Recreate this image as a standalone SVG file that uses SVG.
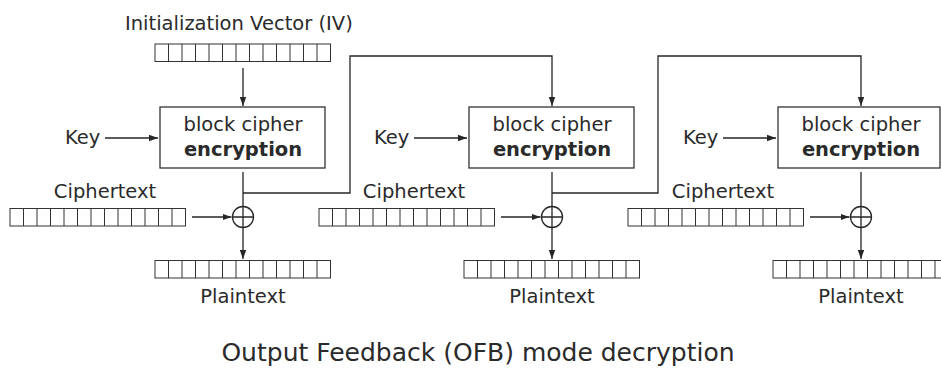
<svg xmlns="http://www.w3.org/2000/svg" xmlns:xlink="http://www.w3.org/1999/xlink" width="941" height="370" viewBox="0 0 941 370">
<style>
text{font-family:"DejaVu Sans","Liberation Sans",sans-serif;fill:#2a2a2a;font-size:19.5px}
.c{text-anchor:middle}
.b{font-weight:bold}
.t{font-size:25px}
.ln{fill:none;stroke:#262626;stroke-width:1.3}
.box{fill:#fff;stroke:#333;stroke-width:1.3}
.cell{fill:#fff;stroke:#333;stroke-width:1}
</style>
<defs>
<marker id="ah" markerWidth="10" markerHeight="8" refX="9" refY="4" orient="auto" markerUnits="userSpaceOnUse">
<path d="M0,0.8 L9,4 L0,7.2 Z" fill="#262626"/>
</marker>
<g id="reg">
<rect class="cell" x="0" y="0" width="175.5" height="17.5"/>
<path class="cell" d="M13.5,0V17.5M27,0V17.5M40.5,0V17.5M54,0V17.5M67.5,0V17.5M81,0V17.5M94.5,0V17.5M108,0V17.5M121.5,0V17.5M135,0V17.5M148.5,0V17.5M162,0V17.5"/>
</g>
<g id="xor">
<circle cx="0" cy="0" r="10.5" fill="#fff" stroke="#262626" stroke-width="1.3"/>
<path d="M-10.5,0H10.5M0,-10.5V10.5" stroke="#262626" stroke-width="1.3"/>
</g>
</defs>
<rect width="941" height="370" fill="#fff"/>

<g id="connectors">
<!-- stage 1 -->
<path class="ln" d="M243,68V106" marker-end="url(#ah)"/>
<path class="ln" d="M105,138H158" marker-end="url(#ah)"/>
<path class="ln" d="M243,172V206.5"/>
<path class="ln" d="M192,217H231.5" marker-end="url(#ah)"/>
<path class="ln" d="M243,227.5V259" marker-end="url(#ah)"/>
<path class="ln" d="M243,193H350V56H552V106" marker-end="url(#ah)"/>
<!-- stage 2 -->
<path class="ln" d="M414,138H467" marker-end="url(#ah)"/>
<path class="ln" d="M552,172V206.5"/>
<path class="ln" d="M501,217H540.5" marker-end="url(#ah)"/>
<path class="ln" d="M552,227.5V259" marker-end="url(#ah)"/>
<path class="ln" d="M552,193H658V56H861V106" marker-end="url(#ah)"/>
<!-- stage 3 -->
<path class="ln" d="M723,138H776" marker-end="url(#ah)"/>
<path class="ln" d="M861,172V206.5"/>
<path class="ln" d="M810,217H849.5" marker-end="url(#ah)"/>
<path class="ln" d="M861,227.5V259" marker-end="url(#ah)"/>
</g>

<g id="iv">
<text x="125" y="30">Initialization Vector (IV)</text>
<use xlink:href="#reg" x="155" y="44"/>
</g>

<g id="stage1">
<g id="key1"><text x="65" y="144">Key</text></g>
<g id="enc1">
<rect class="box" x="160" y="107" width="165" height="61"/>
<text class="c" x="243" y="131">block cipher</text>
<text class="c b" x="243" y="156">encryption</text>
</g>
<g id="ct1">
<text class="c" x="105" y="198">Ciphertext</text>
<use xlink:href="#reg" x="10" y="208.5"/>
</g>
<g id="xor1"><use xlink:href="#xor" x="243" y="217"/></g>
<g id="pt1">
<use xlink:href="#reg" x="155" y="260.5"/>
<text class="c" x="243" y="303">Plaintext</text>
</g>
</g>

<g id="stage2">
<g id="key2"><text x="374" y="144">Key</text></g>
<g id="enc2">
<rect class="box" x="469" y="107" width="165" height="61"/>
<text class="c" x="552" y="131">block cipher</text>
<text class="c b" x="552" y="156">encryption</text>
</g>
<g id="ct2">
<text class="c" x="414" y="198">Ciphertext</text>
<use xlink:href="#reg" x="319" y="208.5"/>
</g>
<g id="xor2"><use xlink:href="#xor" x="552" y="217"/></g>
<g id="pt2">
<use xlink:href="#reg" x="464" y="260.5"/>
<text class="c" x="552" y="303">Plaintext</text>
</g>
</g>

<g id="stage3">
<g id="key3"><text x="683" y="144">Key</text></g>
<g id="enc3">
<rect class="box" x="778" y="107" width="162" height="61"/>
<text class="c" x="861" y="131">block cipher</text>
<text class="c b" x="861" y="156">encryption</text>
</g>
<g id="ct3">
<text class="c" x="723" y="198">Ciphertext</text>
<use xlink:href="#reg" x="628" y="208.5"/>
</g>
<g id="xor3"><use xlink:href="#xor" x="861" y="217"/></g>
<g id="pt3">
<use xlink:href="#reg" x="773" y="260.5"/>
<text class="c" x="861" y="303">Plaintext</text>
</g>
</g>

<g id="title">
<text class="c t" x="478" y="361">Output Feedback (OFB) mode decryption</text>
</g>
</svg>
